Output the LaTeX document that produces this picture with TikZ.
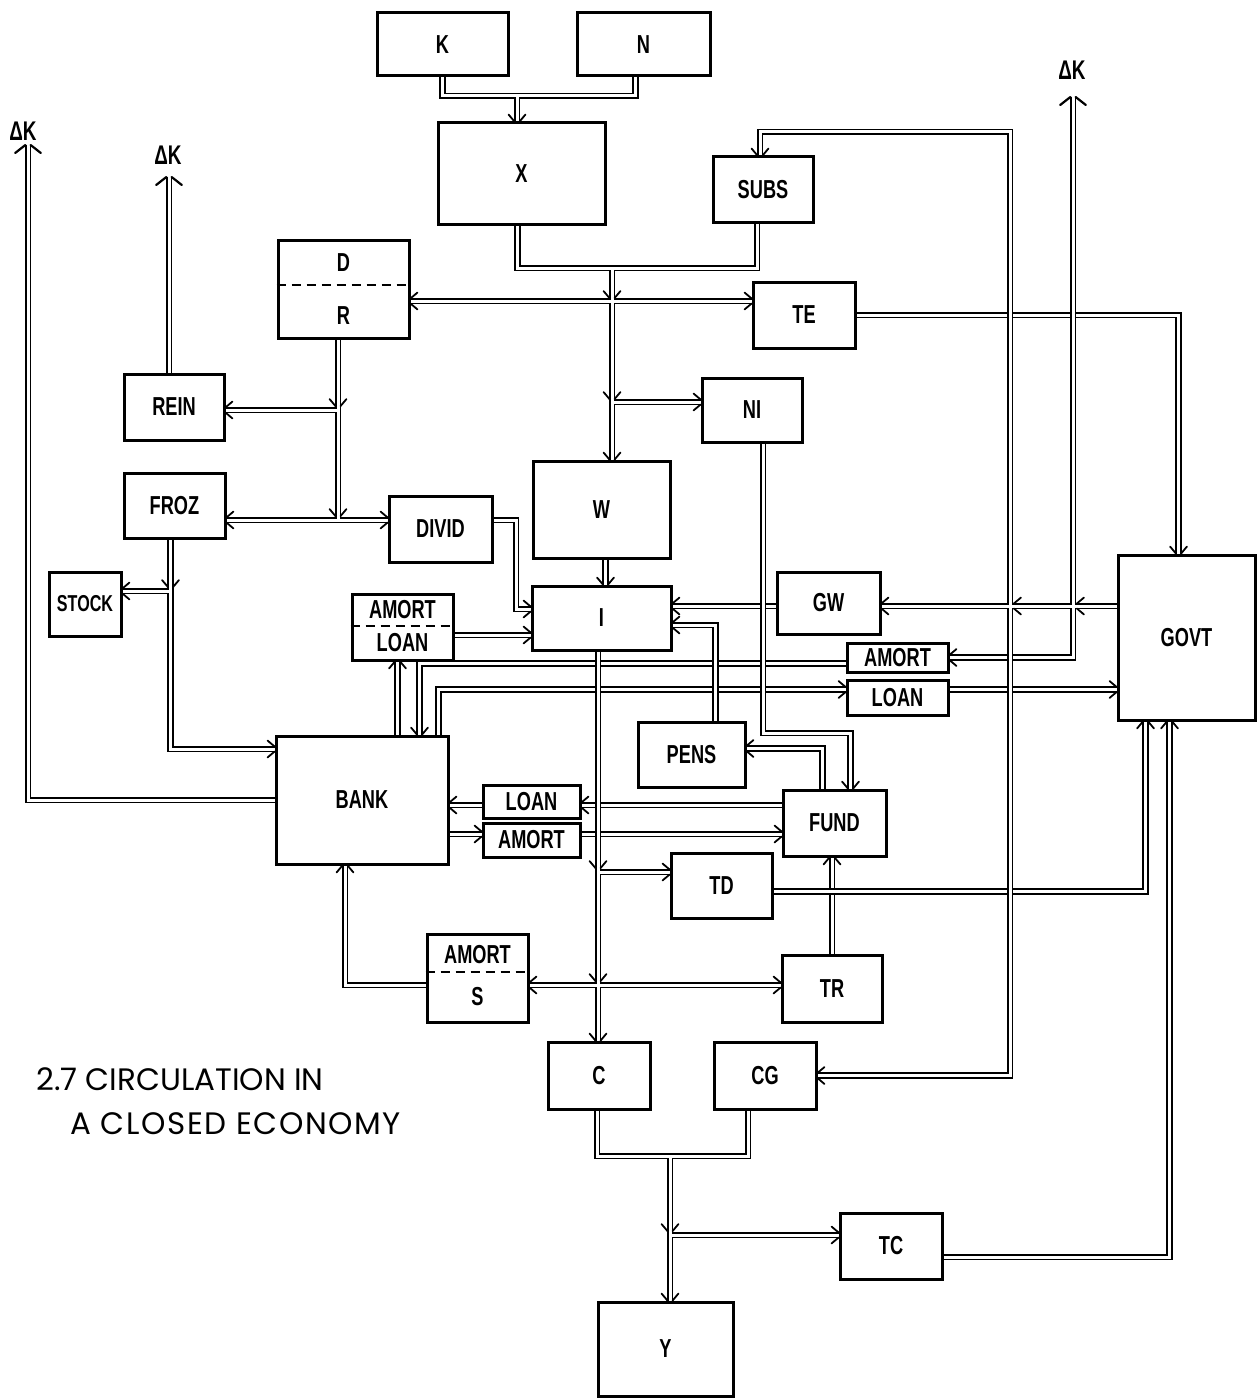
\documentclass[tikz,border=0pt]{standalone}
\usepackage{fontspec}
\usetikzlibrary{calc}
\newfontfamily\boxfont[FakeStretch=0.7]{Liberation Sans}
\newfontfamily\ttlfont{Poppins}
\tikzset{
  blk/.style={draw, line width=3pt, fill=white, inner sep=0pt, font=\boxfont\bfseries\fontsize{26}{26}\selectfont},
  lbl/.style={inner sep=0pt, font=\boxfont\bfseries\fontsize{26}{26}\selectfont},
  dklbl/.style={inner sep=0pt, font=\boxfont\bfseries\fontsize{27}{27}\selectfont},
  ttl/.style={inner sep=0pt, font=\ttlfont\fontsize{31}{31}\selectfont},
  barb/.style={line width=1.8pt, line cap=round},
  sepline/.style={line width=2.2pt, dash pattern=on 9pt off 6pt},
}
\newcommand\bx[6]{\node[blk, minimum width={#4-#2}, minimum height={#5-#3}] (#1) at ({(#2+#4)/2},{(#3+#5)/2}) {#6};}
\newcommand\arr[2]{\path #1 coordinate (atip);
  \draw[barb] ($(atip)+({#2+90}:2.6)$) -- ++({#2+140}:9);
  \draw[barb] ($(atip)+({#2-90}:2.6)$) -- ++({#2-140}:9);}
\newcommand\arrB[2]{\path #1 coordinate (atip);
  \draw[barb,line width=2.2pt] ($(atip)+({#2+90}:2.6)$) -- ++({#2+128}:13);
  \draw[barb,line width=2.2pt] ($(atip)+({#2-90}:2.6)$) -- ++({#2-128}:13);}
\newcommand\bridgev[1]{\path #1 coordinate (bc);
  \draw[line width=6.5pt] ([yshift=7]bc) -- ([yshift=-7]bc);
  \draw[white,line width=3pt] ([yshift=7]bc) -- ([yshift=-7]bc);}
\newcommand\bridgeh[1]{\path #1 coordinate (bc);
  \draw[line width=6.5pt] ([xshift=7]bc) -- ([xshift=-7]bc);
  \draw[white,line width=3pt] ([xshift=7]bc) -- ([xshift=-7]bc);}
\newcommand\pipes{%
 \draw[pipe] (K.south) |- (jKN) -| (nS);
 \draw[pipe] (jKN) -- (jKN |- X.north);
 \draw[pipe] (xS) |- (jXS) -| (sbS);
 \draw[pipe] (jXS) -- (jNI |- W.north);
 \draw[pipe] (jTE) -- (jTE -| DR.east);
 \draw[pipe] (jTE) -- (jTE -| TE.west);
 \draw[pipe] (jNI) -- (jNI -| NI.west);
 \draw[pipe] (wS) -- (wS |- I.north);
 \draw[pipe] (GOVT.west |- g1) -- (g2 -| GW.east);
 \draw[pipe] (g1) -- (dkR);
 \draw[pipe] (g1) |- (amrR);
 \draw[pipe] (g2) |- (sT) -- (sT |- SUBS.north);
 \draw[pipe] (g2) |- (CG.east);
 \draw[pipe] (TE.east) -| (gvN);
 \draw[pipe] (lorR) -- (lorR -| GOVT.west);
 \draw[pipe] (bk3) |- (lorL);
 \draw[pipe] (amrL) -| (bk2);
 \draw[pipe] (bk1) -- (bk1 |- AMLO.south);
 \draw[pipe] (alE) -- (alE -| I.west);
 \draw[pipe] (dvE) -| (dvc) |- (iW1);
 \draw[pipe] (gwW) -- (gwW -| I.east);
 \draw[pipe] (pnN) |- (iE2);
 \draw[pipe] (niS) |- (nf) -| (fuN1);
 \draw[pipe] (fuN2) |- (pnE);
 \draw[pipe] (TR.north) -- (TR.north |- FUND.south);
 \draw[pipe] (tdE) -| (gvS1);
 \draw[pipe] (tcE) -| (gvS2);
 \draw[pipe] (iS) -- (jTD |- C.north);
 \draw[pipe] (jTD) -- (jTD -| TD.west);
 \draw[pipe] (jS) -- (jS -| AMS.east);
 \draw[pipe] (jS) -- (jS -| TR.west);
 \draw[pipe] (jS -| AMS.west) -| (bkS);
 \draw[pipe] (fuW1) -- (fuW1 -| LOm.east);
 \draw[pipe] (fuW1 -| LOm.west) -- (fuW1 -| BANK.east);
 \draw[pipe] (fuW2 -| BANK.east) -- (fuW2 -| AMm.west);
 \draw[pipe] (fuW2 -| AMm.east) -- (fuW2);
 \draw[pipe] (drS) -- (jFR);
 \draw[pipe] (jRE) -- (jRE -| REIN.east);
 \draw[pipe] (jFR) -- (jFR -| FROZ.east);
 \draw[pipe] (jFR) -- (jFR -| DIVID.west);
 \draw[pipe] (rnN) -- (rnN |- dkM);
 \draw[pipe] (frS) |- (bkW1);
 \draw[pipe] (jST) -- (jST -| STOCK.east);
 \draw[pipe] (BANK.west) -| (dkL);
 \draw[pipe] (cS) |- (jCY) -| (cgS);
 \draw[pipe] (jCY) -- (jTC |- Y.north);
 \draw[pipe] (jTC) -- (jTC -| TC.west);
}
\begin{document}
\begin{tikzpicture}[x=1pt,y=-1pt]
\useasboundingbox[fill=white] (0,0) rectangle (1257,1399);
% nodes placed first (invisible) so that their anchors exist for routing
\begin{scope}[blk/.append style={draw=none,fill=none,text opacity=0}]
\bx{K}{377}{13}{508}{76}{}
\bx{N}{577}{13}{710}{76}{}
\bx{X}{438}{123}{605}{224}{}
\bx{SUBS}{713}{157}{813}{222}{}
\bx{DR}{278}{240}{409}{338}{}
\bx{TE}{753}{282}{855}{348}{}
\bx{REIN}{124}{374}{224}{440}{}
\bx{NI}{702}{378}{802}{442}{}
\bx{FROZ}{124}{473}{225}{538}{}
\bx{DIVID}{389}{496}{492}{562}{}
\bx{W}{533}{461}{670}{558}{}
\bx{STOCK}{49}{572}{121}{636}{}
\bx{AMLO}{352}{594}{453}{660}{}
\bx{I}{532}{586}{671}{650}{}
\bx{GW}{777}{572}{880}{634}{}
\bx{AMr}{847}{643}{948}{672}{}
\bx{LOr}{847}{680}{948}{715}{}
\bx{GOVT}{1118}{555}{1255}{720}{}
\bx{PENS}{638}{722}{745}{787}{}
\bx{BANK}{276}{736}{448}{864}{}
\bx{LOm}{483}{785}{580}{818}{}
\bx{AMm}{483}{823}{580}{857}{}
\bx{FUND}{783}{790}{886}{856}{}
\bx{TD}{671}{853}{772}{918}{}
\bx{AMS}{427}{934}{528}{1022}{}
\bx{TR}{782}{955}{882}{1022}{}
\bx{C}{548}{1042}{650}{1109}{}
\bx{CG}{714}{1042}{816}{1109}{}
\bx{TC}{840}{1213}{942}{1279}{}
\bx{Y}{598}{1302}{733}{1396}{}
\end{scope}
% routing coordinates
\coordinate (jKN) at (517,96);
\coordinate (jXS) at (612,268);
\coordinate (jTE) at (612,301);
\coordinate (jNI) at (612,402);
\coordinate (g1) at (1073,606);
\coordinate (g2) at (1010,606);
\coordinate (sT) at (760,132);
\coordinate (dkR) at (1073,97);
\coordinate (nf) at (850,733);
\coordinate (jTD) at (598,872);
\coordinate (jS) at (598,985);
\coordinate (jRE) at (338,410);
\coordinate (jFR) at (338,520);
\coordinate (dkM) at (169,177);
\coordinate (jST) at (170.5,591);
\coordinate (dkL) at (28,145);
\coordinate (jCY) at (670,1156);
\coordinate (jTC) at (670,1235);
\coordinate (dvc) at (516,560);
\coordinate (nS) at ([xshift=-8]N.south);
\coordinate (xS) at ([xshift=-4]X.south);
\coordinate (sbS) at ([xshift=-6]SUBS.south);
\coordinate (wS) at ([xshift=4]W.south);
\coordinate (amrR) at (AMr.east);
\coordinate (amrL) at ([yshift=-6]AMr.west);
\coordinate (lorL) at ([yshift=8]LOr.west);
\coordinate (lorR) at ([yshift=8]LOr.east);
\coordinate (bk1) at ([xshift=-52]BANK.north east);
\coordinate (bk2) at ([xshift=-30]BANK.north east);
\coordinate (bk3) at ([xshift=-11]BANK.north east);
\coordinate (alE) at ([yshift=-8]AMLO.east);
\coordinate (dvE) at ([yshift=9]DIVID.east);
\coordinate (iW1) at ([yshift=9]I.west);
\coordinate (gwW) at ([yshift=-3]GW.west);
\coordinate (pnN) at ([xshift=24]PENS.north);
\coordinate (iE2) at ([yshift=-7]I.east);
\coordinate (niS) at ([xshift=11]NI.south);
\coordinate (fuN1) at ([xshift=16]FUND.north);
\coordinate (fuN2) at ([xshift=-12]FUND.north);
\coordinate (pnE) at ([yshift=6]PENS.east);
\coordinate (tdE) at ([yshift=-6]TD.east);
\coordinate (gvS1) at ([xshift=-41]GOVT.south);
\coordinate (tcE) at ([yshift=-11]TC.east);
\coordinate (gvS2) at ([xshift=-17]GOVT.south);
\coordinate (gvN) at ([xshift=-8]GOVT.north);
\coordinate (fuW1) at ([yshift=18]FUND.west);
\coordinate (fuW2) at ([yshift=-11]FUND.west);
\coordinate (bkS) at ([xshift=-17]BANK.south);
\coordinate (frS) at ([xshift=-4]FROZ.south);
\coordinate (bkW1) at ([yshift=51]BANK.west);
\coordinate (rnN) at ([xshift=-5]REIN.north);
\coordinate (cS) at ([xshift=-2]C.south);
\coordinate (cgS) at ([xshift=-17]CG.south);
\coordinate (iS) at (jTD |- I.south);
\coordinate (drS) at (jRE |- DR.south);
% pipes: black pass then white pass
\begin{scope}[pipe/.style={line width=6.5pt, draw=black, line join=miter}]
\pipes
\end{scope}
\begin{scope}[pipe/.style={line width=3pt, draw=white, line join=miter}]
\pipes
\end{scope}
% crossings
\bridgev{(g2 |- TE.east)}
\bridgev{(g1 |- TE.east)}
\bridgev{(g2 |- amrR)}
\bridgev{(g2 |- lorR)}
\bridgev{(g2 |- tdE)}
\bridgeh{(TR.north |- tdE)}
\bridgev{(niS |- gwW)}
\bridgev{(iS |- amrL)}
\bridgev{(iS |- lorL)}
\bridgev{(pnN |- amrL)}
\bridgev{(pnN |- lorL)}
\bridgev{(niS |- amrL)}
\bridgev{(niS |- lorL)}
\bridgev{(iS |- fuW1)}
\bridgev{(iS |- fuW2)}
% boxes
\bx{K}{377}{13}{508}{76}{K}
\bx{N}{577}{13}{710}{76}{N}
\bx{X}{438}{123}{605}{224}{X}
\bx{SUBS}{713}{157}{813}{222}{SUBS}
\bx{DR}{278}{240}{409}{338}{}
\bx{TE}{753}{282}{855}{348}{TE}
\bx{REIN}{124}{374}{224}{440}{REIN}
\bx{NI}{702}{378}{802}{442}{NI}
\bx{FROZ}{124}{473}{225}{538}{FROZ}
\bx{DIVID}{389}{496}{492}{562}{DIVID}
\bx{W}{533}{461}{670}{558}{W}
\bx{STOCK}{49}{572}{121}{636}{\fontsize{23}{23}\selectfont STOCK}
\bx{AMLO}{352}{594}{453}{660}{}
\bx{I}{532}{586}{671}{650}{I}
\bx{GW}{777}{572}{880}{634}{GW}
\bx{AMr}{847}{643}{948}{672}{AMORT}
\bx{LOr}{847}{680}{948}{715}{LOAN}
\bx{GOVT}{1118}{555}{1255}{720}{GOVT}
\bx{PENS}{638}{722}{745}{787}{PENS}
\bx{BANK}{276}{736}{448}{864}{BANK}
\bx{LOm}{483}{785}{580}{818}{LOAN}
\bx{AMm}{483}{823}{580}{857}{AMORT}
\bx{FUND}{783}{790}{886}{856}{FUND}
\bx{TD}{671}{853}{772}{918}{TD}
\bx{AMS}{427}{934}{528}{1022}{}
\bx{TR}{782}{955}{882}{1022}{TR}
\bx{C}{548}{1042}{650}{1109}{C}
\bx{CG}{714}{1042}{816}{1109}{CG}
\bx{TC}{840}{1213}{942}{1279}{TC}
\bx{Y}{598}{1302}{733}{1396}{Y}
% split boxes
\draw[sepline] ([yshift=4]DR.west) -- ([yshift=4]DR.east);
\draw[sepline] ([yshift=1]AMLO.west) -- ([yshift=1]AMLO.east);
\draw[sepline] ([yshift=6]AMS.west) -- ([yshift=6]AMS.east);
\node[lbl] (tD) at ($(DR.center)+(0,-26)$) {D};
\node[lbl] (tR) at ($(DR.center)+(0,27)$) {R};
\node[lbl] (tA1) at ($(AMLO.center)+(0,-17)$) {AMORT};
\node[lbl] (tL1) at ($(AMLO.center)+(0,16)$) {LOAN};
\node[lbl] (tA2) at ($(AMS.center)+(0,-23)$) {AMORT};
\node[lbl] (tS) at ($(AMS.center)+(0,19)$) {S};
% Delta K labels
\node[dklbl] (dkLt) at (23,131) {ΔK};
\node[dklbl] (dkMt) at (168,155) {ΔK};
\node[dklbl] (dkRt) at (1072,70) {ΔK};
% title
\node[ttl, anchor=base west] (t1) at (36,1090) {2.7 CIRCULATION IN};
\node[ttl, anchor=base west] (t2) at (70,1134) {\addfontfeature{LetterSpace=5}A CLOSED ECONOMY};
% arrowheads
\arr{(jKN |- X.north)}{90}
\arr{(jNI |- W.north)}{90}
\arr{([yshift=3]jTE)}{90}
\arr{([yshift=3]jNI)}{90}
\arr{(jTE -| DR.east)}{180}
\arr{(jTE -| TE.west)}{0}
\arr{(jNI -| NI.west)}{0}
\arr{(wS |- I.north)}{90}
\arr{(g2 -| GW.east)}{180}
\arr{([xshift=4]g1)}{180}
\arr{([xshift=4]g2)}{180}
\arrB{(dkR)}{-90}
\arr{(amrR)}{180}
\arr{(sT |- SUBS.north)}{90}
\arr{(CG.east)}{180}
\arr{(gvN)}{90}
\arr{(lorR -| GOVT.west)}{0}
\arr{(lorL)}{0}
\arr{(bk2)}{90}
\arr{(bk1 |- AMLO.south)}{-90}
\arr{(alE -| I.west)}{0}
\arr{(iW1)}{0}
\arr{(gwW -| I.east)}{180}
\arr{(iE2)}{180}
\arr{(fuN1)}{90}
\arr{(pnE)}{180}
\arr{(TR.north |- FUND.south)}{-90}
\arr{(gvS1)}{-90}
\arr{(gvS2)}{-90}
\arr{(jTD |- C.north)}{90}
\arr{([yshift=4]jTD)}{90}
\arr{([yshift=4]jS)}{90}
\arr{(jTD -| TD.west)}{0}
\arr{(jS -| AMS.east)}{180}
\arr{(jS -| TR.west)}{0}
\arr{(bkS)}{-90}
\arr{(fuW1 -| LOm.east)}{180}
\arr{(fuW1 -| BANK.east)}{180}
\arr{(fuW2 -| AMm.west)}{0}
\arr{(fuW2)}{0}
\arr{([yshift=4]jRE)}{90}
\arr{([yshift=4]jFR)}{90}
\arr{(jRE -| REIN.east)}{180}
\arr{(jFR -| FROZ.east)}{180}
\arr{(jFR -| DIVID.west)}{0}
\arrB{(rnN |- dkM)}{-90}
\arr{(bkW1)}{0}
\arr{([yshift=4]jST)}{90}
\arr{(jST -| STOCK.east)}{180}
\arrB{(dkL)}{-90}
\arr{(jTC |- Y.north)}{90}
\arr{([yshift=4]jTC)}{90}
\arr{(jTC -| TC.west)}{0}
\end{tikzpicture}
\end{document}
